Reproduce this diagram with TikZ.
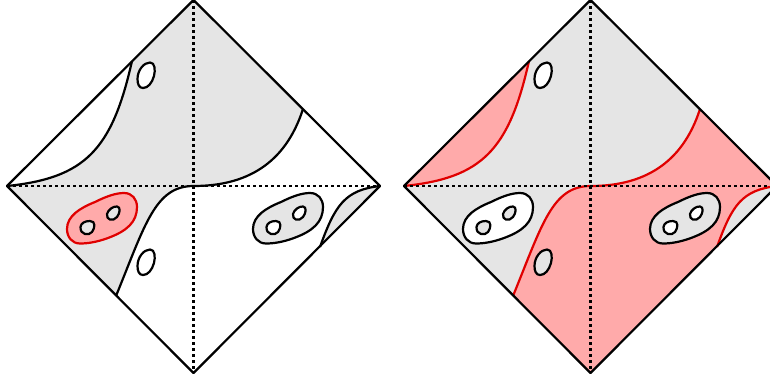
\documentclass[tikz,border=0pt]{standalone}
\definecolor{graytone}{HTML}{E5E5E5}
\definecolor{pinkfill}{HTML}{FFAAAA}
\definecolor{redline}{HTML}{E00000}
\tikzset{
  outline/.style={draw=black,line width=2.2pt,line join=round},
  redcurve/.style={draw=redline,line width=2.2pt},
  dots/.style={draw=black,line width=2.2pt,dash pattern=on 3pt off 3pt},
}
\newcommand{\blobpath}{(67,229) .. controls (67,216) and (80,208) .. (95,202) .. controls (105,197) and (115,193) .. (124,193) .. controls (132,193) and (137,199) .. (137,207) .. controls (137,222) and (127,231) .. (108,238) .. controls (97,242) and (88,243.5) .. (80,243.5) .. controls (72,243.5) and (67,237) .. (67,229) -- cycle}
\newcommand{\holeA}{(80.5,227) .. controls (81,223) and (85,221) .. (90,221) .. controls (96,221) and (95,228) .. (92,232) .. controls (89,236) and (80,235) .. (80.5,227) -- cycle}
\newcommand{\holeB}{(107,214) .. controls (108,210) and (113,206) .. (117,206.5) .. controls (121,207) and (120,213) .. (117,217) .. controls (113,222) and (106,220) .. (107,214) -- cycle}
\newcommand{\ovalpath}{(137.5,79) .. controls (137.5,70) and (144,62.5) .. (150,62.5) .. controls (155,62.5) and (155.5,70) .. (154,76) .. controls (152,83) and (148,88) .. (143,88) .. controls (139,88) and (137.5,84) .. (137.5,79) -- cycle}
\newcommand{\curveA}{(7,186) .. controls (85,178) and (112,150) .. (132,61)}
\newcommand{\curveB}{(116,296) .. controls (145,225) and (155,186) .. (193.5,186) .. controls (245,186) and (285,165) .. (303,109)}
\newcommand{\curveC}{(380,186) .. controls (345,190) and (335,205) .. (320,247)}
\begin{document}
\begin{tikzpicture}[x=1pt,y=-1pt]
\useasboundingbox (0,0) rectangle (770,381);
\clip (0,0) rectangle (770,381);
% ---------- left diamond
\begin{scope}
  \fill[graytone] (7,186) .. controls (85,178) and (112,150) .. (132,61) -- (193.5,0) -- (303,109)
     .. controls (285,165) and (245,186) .. (193.5,186) .. controls (155,186) and (145,225) .. (116,296) -- cycle;
  \fill[graytone] \curveC -- cycle;
  \draw[outline] \curveA;
  \draw[outline] \curveB;
  \draw[outline] \curveC;
  \draw[dots] (7,186) -- (380,186);
  \draw[dots] (193.5,0) -- (193.5,373);
  \draw[outline] (7,186) -- (193.5,0) -- (380,186) -- (193.5,373) -- cycle;
  \filldraw[fill=white,outline] \ovalpath;
  \begin{scope}[yshift=-187pt]
    \filldraw[fill=white,outline] \ovalpath;
  \end{scope}
  \filldraw[fill=pinkfill,draw=redline,line width=2.2pt] \blobpath;
  \filldraw[fill=graytone,outline] \holeA;
  \filldraw[fill=graytone,outline] \holeB;
  \begin{scope}[xshift=186pt]
    \filldraw[fill=graytone,outline] \blobpath;
    \filldraw[fill=white,outline] \holeA;
    \filldraw[fill=white,outline] \holeB;
  \end{scope}
\end{scope}
% ---------- right diamond
\begin{scope}[xshift=397pt]
  \fill[graytone] (7,186) -- (193.5,0) -- (380,186) -- (193.5,373) -- cycle;
  \fill[pinkfill] \curveA -- cycle;
  \fill[pinkfill] (116,296) .. controls (145,225) and (155,186) .. (193.5,186) .. controls (245,186) and (285,165) .. (303,109)
     -- (380,186) .. controls (345,190) and (335,205) .. (320,247) -- (193.5,373) -- cycle;
  \draw[redcurve] \curveA;
  \draw[redcurve] \curveB;
  \draw[redcurve] \curveC;
  \draw[dots] (7,186) -- (380,186);
  \draw[dots] (193.5,0) -- (193.5,373);
  \draw[outline] (7,186) -- (193.5,0) -- (380,186) -- (193.5,373) -- cycle;
  \filldraw[fill=white,outline] \ovalpath;
  \begin{scope}[yshift=-187pt]
    \filldraw[fill=graytone,outline] \ovalpath;
  \end{scope}
  \begin{scope}[xshift=-1pt]
    \filldraw[fill=white,outline] \blobpath;
    \filldraw[fill=graytone,outline] \holeA;
    \filldraw[fill=graytone,outline] \holeB;
  \end{scope}
  \begin{scope}[xshift=186pt]
    \filldraw[fill=graytone,outline] \blobpath;
    \filldraw[fill=white,outline] \holeA;
    \filldraw[fill=white,outline] \holeB;
  \end{scope}
\end{scope}
\end{tikzpicture}
\end{document}
